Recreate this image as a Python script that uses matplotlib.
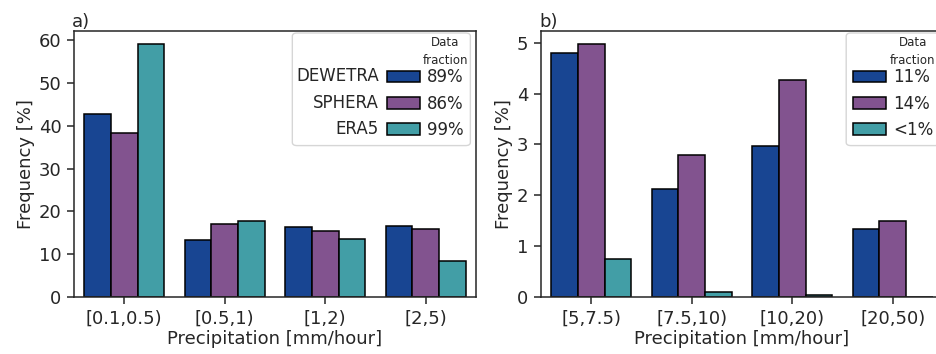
import matplotlib
matplotlib.use('Agg')
import matplotlib.pyplot as plt
import numpy as np
from matplotlib.patches import FancyBboxPatch

plt.rcParams['font.family'] = 'DejaVu Sans'
plt.rcParams['text.color'] = '.15'
plt.rcParams['axes.labelcolor'] = '.15'
plt.rcParams['axes.edgecolor'] = '.15'
plt.rcParams['xtick.color'] = '.15'
plt.rcParams['ytick.color'] = '.15'

models = ['DEWETRA', 'SPHERA', 'ERA5']
colors = ['#184592', '#82538f', '#429ea6']

bins_low = ['[0.1,0.5)', '[0.5,1)', '[1,2)', '[2,5)']
freq_low = {
    'DEWETRA': [42.7, 13.3, 16.3, 16.6],
    'SPHERA': [38.3, 17.0, 15.4, 15.8],
    'ERA5': [59.2, 17.7, 13.6, 8.4],
}
frac_low = ['89%', '86%', '99%']

bins_high = ['[5,7.5)', '[7.5,10)', '[10,20)', '[20,50)']
freq_high = {
    'DEWETRA': [4.79, 2.12, 2.96, 1.34],
    'SPHERA': [4.98, 2.79, 4.26, 1.50],
    'ERA5': [0.74, 0.10, 0.03, 0.0],
}
frac_high = ['11%', '14%', '<1%']

fig = plt.figure(figsize=(9.36, 3.54), dpi=100)
ax1 = fig.add_axes([74 / 936, 57 / 354, 402 / 936, 266 / 354])
ax2 = fig.add_axes([541 / 936, 57 / 354, 402 / 936, 266 / 354])

w = 0.8 / 3


def draw_panel(ax, bins, freq, title):
    x = np.arange(len(bins))
    handles = []
    for i, m in enumerate(models):
        b = ax.bar(x + (i - 1) * w, freq[m], width=w, color=colors[i],
                   edgecolor='black', linewidth=1.1)
        handles.append(b)
    ax.set_xlim(-0.5, len(bins) - 0.5)
    ax.set_xticks(x)
    ax.set_xticklabels(bins)
    ax.tick_params(labelsize=13, length=5, width=1.1, pad=4)
    ax.set_xlabel('Precipitation [mm/hour]', fontsize=13, labelpad=2)
    ax.set_ylabel('Frequency [%]', fontsize=13, labelpad=3)
    ax.set_title(title, loc='left', fontsize=13, pad=3, x=-0.005)
    for s in ax.spines.values():
        s.set_linewidth(1.1)
    return handles


h1 = draw_panel(ax1, bins_low, freq_low, 'a)')
h2 = draw_panel(ax2, bins_high, freq_high, 'b)')

leg1 = ax1.legend(h1, frac_low, fontsize=12, loc='upper right',
                  borderaxespad=0, bbox_to_anchor=(0.986, 0.885),
                  frameon=False, handletextpad=0.4)
leg2 = ax2.legend(h2, frac_high, fontsize=12, loc='upper right',
                  borderaxespad=0, bbox_to_anchor=(0.992, 0.885),
                  frameon=False, handletextpad=0.4)

fig.canvas.draw()
r = fig.canvas.get_renderer()
H = fig.bbox.height


def finish_legend(ax, leg, names=None):
    inv = ax.transAxes.inverted()
    lb = leg.get_window_extent(r)
    left = lb.x0
    if names:
        for hp, m in zip(leg.legend_handles, names):
            bb = hp.get_window_extent(r)
            xa, ya = inv.transform((bb.x0 - 8, (bb.y0 + bb.y1) / 2))
            t = ax.text(xa, ya, m, ha='right', va='center', fontsize=12,
                        transform=ax.transAxes, zorder=6)
            left = min(left, t.get_window_extent(r).x0 - 4)
    # title centred over the percentage column
    tx = [t.get_window_extent(r) for t in leg.get_texts()]
    cx = (min(b.x0 for b in tx) + max(b.x1 for b in tx)) / 2
    xa, ya = inv.transform((cx, H - 51.7))
    ax.text(xa, ya, 'Data\nfraction', ha='center', va='center',
            fontsize=8.5, linespacing=1.55, transform=ax.transAxes,
            zorder=6)
    x0, y0 = inv.transform((left, lb.y0))
    x1, y1 = inv.transform((lb.x1, H - 33))
    frame = FancyBboxPatch((x0, y0), x1 - x0, y1 - y0,
                           boxstyle='round,pad=0,rounding_size=0.012',
                           transform=ax.transAxes, facecolor='white',
                           edgecolor='0.8', alpha=0.8, zorder=4.9,
                           clip_on=False)
    ax.add_patch(frame)
    leg.set_zorder(5)


finish_legend(ax1, leg1, models)
finish_legend(ax2, leg2)

fig.savefig('out.png', dpi=100)
